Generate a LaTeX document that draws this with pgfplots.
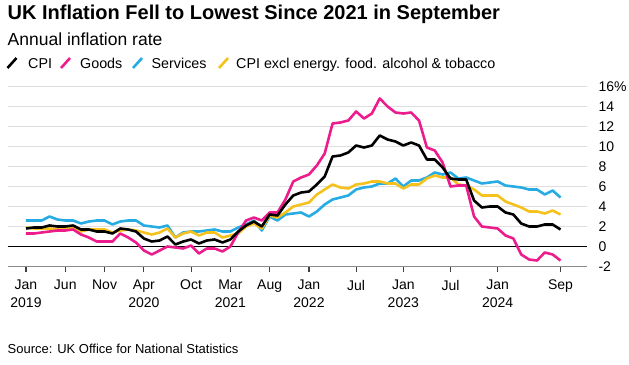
\documentclass[border=0pt]{standalone}
\usepackage{fontspec}
\setmainfont{Liberation Sans}
\usepackage{pgfplots}
\pgfplotsset{compat=1.18}
\usepackage{pgfplotstable}

\definecolor{cpic}{HTML}{000000}
\definecolor{goodsc}{HTML}{EC1C8C}
\definecolor{servc}{HTML}{26ACE2}
\definecolor{corec}{HTML}{F5C11D}
\definecolor{gridc}{HTML}{DEDEDE}
\definecolor{axisc}{HTML}{8C8C8C}

\pgfplotstableread{
m cpi goods serv core
0 1.8 1.3 2.6 1.9
1 1.9 1.3 2.6 1.8
2 1.9 1.4 2.6 1.8
3 2.1 1.5 3.0 1.8
4 2.0 1.6 2.7 1.7
5 2.0 1.6 2.6 1.8
6 2.1 1.7 2.6 1.9
7 1.7 1.2 2.3 1.5
8 1.7 0.9 2.5 1.7
9 1.5 0.5 2.6 1.7
10 1.5 0.5 2.6 1.7
11 1.3 0.5 2.2 1.4
12 1.8 1.3 2.5 1.6
13 1.7 0.9 2.6 1.7
14 1.5 0.4 2.6 1.6
15 0.8 -0.4 2.1 1.4
16 0.5 -0.8 2.0 1.2
17 0.6 -0.4 1.9 1.4
18 1.0 0.0 2.1 1.8
19 0.2 -0.1 0.9 0.9
20 0.5 -0.2 1.4 1.3
21 0.7 0.1 1.5 1.5
22 0.3 -0.7 1.5 1.1
23 0.6 -0.2 1.6 1.4
24 0.7 -0.2 1.7 1.4
25 0.4 -0.5 1.5 0.9
26 0.7 0.0 1.5 1.1
27 1.5 1.4 1.9 1.3
28 2.1 2.6 2.2 2.0
29 2.5 2.9 2.6 2.3
30 2.0 2.6 1.6 1.8
31 3.2 3.4 3.0 3.1
32 3.1 3.4 2.6 2.9
33 4.2 4.7 3.2 3.4
34 5.1 6.5 3.3 4.0
35 5.4 6.9 3.4 4.2
36 5.5 7.2 3.0 4.4
37 6.2 8.1 3.5 5.2
38 7.0 9.3 4.2 5.7
39 9.0 12.3 4.7 6.2
40 9.1 12.4 4.9 5.9
41 9.4 12.6 5.1 5.8
42 10.1 13.5 5.7 6.2
43 9.9 12.8 5.9 6.3
44 10.1 13.3 6.0 6.5
45 11.1 14.8 6.3 6.5
46 10.7 14.0 6.3 6.3
47 10.5 13.4 6.8 6.3
48 10.1 13.3 6.0 5.8
49 10.4 13.4 6.6 6.2
50 10.1 12.6 6.6 6.2
51 8.7 9.9 6.9 6.8
52 8.7 9.6 7.4 7.1
53 7.9 8.4 7.2 6.9
54 6.8 6.0 7.4 6.9
55 6.7 6.1 6.8 6.2
56 6.7 6.1 6.9 6.1
57 4.6 3.0 6.6 5.7
58 3.9 2.0 6.3 5.1
59 4.0 1.9 6.4 5.1
60 4.0 1.8 6.5 5.1
61 3.4 1.1 6.1 4.5
62 3.2 0.8 6.0 4.2
63 2.3 -0.8 5.9 3.9
64 2.0 -1.3 5.7 3.5
65 2.0 -1.4 5.7 3.5
66 2.2 -0.6 5.2 3.3
67 2.2 -0.8 5.6 3.6
68 1.7 -1.4 4.9 3.2
}\datatable

\begin{document}
\begin{tikzpicture}[x=1bp,y=1bp]
\useasboundingbox (0,0) rectangle (629,364);

% titles
\node[anchor=base west, inner sep=0pt] at (7.5,344.5)
  {\fontsize{20bp}{24bp}\selectfont\bfseries UK Inflation Fell to Lowest Since 2021 in September};
\node[anchor=base west, inner sep=0pt] at (7.5,319)
  {\fontsize{17.5bp}{21bp}\selectfont Annual inflation rate};

% legend
\begin{scope}[line width=2.6bp]
\draw[cpic]   (7.5,296) -- (16.5,306);
\draw[goodsc] (61,296) -- (70,306);
\draw[servc]  (133,296) -- (142,306);
\draw[corec]  (219,296) -- (228,306);
\end{scope}
\begin{scope}[every node/.style={anchor=base west, inner sep=0pt, font=\fontsize{14.3bp}{17bp}\selectfont}]
\node at (28,295.5) {CPI};
\node at (80,295.5) {Goods};
\node at (151.5,295.5) {Services};
\node at (236,295.5) {CPI excl energy. food. alcohol \& tobacco};
\end{scope}

% source
\node[anchor=base west, inner sep=0pt] at (7.5,11)
  {\fontsize{13bp}{16bp}\selectfont Source: UK Office for National Statistics};

\begin{axis}[
  at={(7.5bp,97.5bp)}, anchor=south west,
  scale only axis, width=579.5bp, height=180bp,
  xmin=-2.35, xmax=71.37, ymin=-2, ymax=16,
  axis x line*=bottom, axis y line*=right,
  x axis line style={draw=axisc, line width=1.4bp},
  y axis line style={draw=none},
  ytick={-2,0,2,4,6,8,10,12,14,16},
  yticklabels={-2,0,2,4,6,8,10,12,14,16\%},
  ymajorgrids, grid style={gridc, line width=1.1bp},
  ytick style={draw=none},
  major tick length=5bp, tick align=outside,
  yticklabel style={anchor=west, xshift=3bp, font=\fontsize{14bp}{17bp}\selectfont},
  xtick={0,5,10,15,21,26,31,36,42,48,54,60,68},
  xticklabels={Jan\\2019,Jun,Nov,Apr\\2020,Oct,Mar\\2021,Aug,Jan\\2022,Jul,Jan\\2023,Jul,Jan\\2024,Sep},
  xtick style={draw=black!75, line width=1.1bp},
  xticklabel style={align=center, anchor=north, yshift=-5bp, font=\fontsize{14bp}{18bp}\selectfont},
  extra y ticks={0}, extra y tick labels={},
  extra y tick style={grid style={black, line width=0.9bp}},
  every axis plot/.append style={line width=2.6bp, line join=round, no markers},
]
\addplot[servc] table[x=m, y=serv] {\datatable};
\addplot[corec] table[x=m, y=core] {\datatable};
\addplot[goodsc] table[x=m, y=goods] {\datatable};
\addplot[cpic] table[x=m, y=cpi] {\datatable};
\end{axis}
\end{tikzpicture}
\end{document}
